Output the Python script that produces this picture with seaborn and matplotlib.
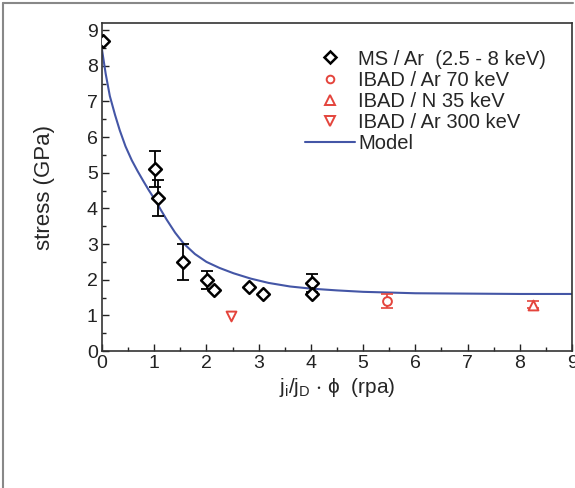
import matplotlib
matplotlib.use('Agg')
import matplotlib.pyplot as plt
from matplotlib.lines import Line2D
import seaborn as sns
import pandas as pd

# MS / Ar (2.5 - 8 keV)
ms_x = [0.02, 1.01, 1.08, 1.56, 2.01, 2.15, 2.82, 3.09, 4.02, 4.02]
ms_y = [8.7, 5.1, 4.3, 2.5, 2.0, 1.7, 1.8, 1.6, 1.9, 1.6]
ms_err = [0, 0.5, 0.5, 0.5, 0.25, 0, 0, 0, 0.25, 0]

# IBAD series
ar70_x, ar70_y, ar70_err = [5.45], [1.4], [0.2]
n35_x, n35_y, n35_err = [8.26], [1.3], [0.1]
ar300_x, ar300_y = [2.47], [0.98]

# Model curve
model_x = [0.0, 0.07, 0.15, 0.25, 0.34, 0.45, 0.57, 0.68, 0.79, 0.9, 1.02, 1.13, 1.24, 1.4,
           1.56, 1.78, 2.0, 2.25, 2.52, 2.85, 3.19, 3.6, 4.0, 4.5, 5.0, 6.0, 7.0, 8.0, 9.0]
model_y = [8.45, 7.78, 7.15, 6.62, 6.19, 5.74, 5.35, 5.05, 4.77, 4.5, 4.23, 3.95, 3.68, 3.32,
           3.02, 2.72, 2.5, 2.33, 2.18, 2.03, 1.91, 1.81, 1.75, 1.7, 1.66, 1.62, 1.61, 1.6, 1.6]

sns.set_style('ticks')
plt.rcParams['font.family'] = ['Liberation Sans', 'DejaVu Sans']
plt.rcParams['mathtext.default'] = 'regular'
plt.rcParams['font.size'] = 13

red = '#e4443c'
blue = '#4456a6'

fig = plt.figure(figsize=(5.75, 4.88), dpi=100)
ax = fig.add_axes([0.1774, 0.2807, 0.8174, 0.6722])

model = pd.DataFrame({'x': model_x, 'y': model_y})
sns.lineplot(data=model, x='x', y='y', ax=ax, color=blue, lw=1.5, label='Model', zorder=2)

ax.errorbar(ms_x, ms_y, yerr=ms_err, fmt='none', ecolor='black', elinewidth=1.3, capsize=4, capthick=1.3, zorder=3)
ax.errorbar(ar70_x, ar70_y, yerr=ar70_err, fmt='none', ecolor=red, elinewidth=1.2, capsize=4, capthick=1.2, zorder=3)
ax.errorbar(n35_x, n35_y, yerr=n35_err, fmt='none', ecolor=red, elinewidth=1.2, capsize=4, capthick=1.2, zorder=3)

sns.scatterplot(x=ms_x, y=ms_y, ax=ax, marker='D', s=42, facecolor='white', edgecolor='black', linewidth=1.8, zorder=4)
sns.scatterplot(x=ar70_x, y=ar70_y, ax=ax, marker='o', s=40, facecolor='white', edgecolor=red, linewidth=1.4, zorder=4)
sns.scatterplot(x=n35_x, y=n35_y, ax=ax, marker='^', s=50, facecolor='white', edgecolor=red, linewidth=1.4, zorder=4)
sns.scatterplot(x=ar300_x, y=ar300_y, ax=ax, marker='v', s=50, facecolor='white', edgecolor=red, linewidth=1.4, zorder=4)

ax.set_xlim(0, 9)
ax.set_ylim(0, 9.2)
ax.set_xticks(range(10))
ax.set_yticks(range(10))
ax.set_xticks([i + 0.5 for i in range(9)], minor=True)
ax.set_yticks([i + 0.5 for i in range(9)], minor=True)
ax.tick_params(which='both', direction='in', top=False, right=False, colors='#222222', labelsize=14, pad=3)
ax.tick_params(which='major', length=5, width=1)
ax.tick_params(which='minor', length=3, width=1)
for s in ax.spines.values():
    s.set_visible(True)
    s.set_linewidth(1.2)
    s.set_color('#333333')

ax.set_xlabel('j$_i$/j$_D$ $\\cdot$ \u03d5  (rpa)', fontsize=15, labelpad=3)
ax.set_ylabel('stress (GPa)', fontsize=16, labelpad=23)

handles = [
    Line2D([], [], ls='none', marker='D', ms=6, mfc='white', mec='black', mew=1.8),
    Line2D([], [], ls='none', marker='o', ms=5.5, mfc='white', mec=red, mew=1.4),
    Line2D([], [], ls='none', marker='^', ms=6.5, mfc='white', mec=red, mew=1.4),
    Line2D([], [], ls='none', marker='v', ms=6.5, mfc='white', mec=red, mew=1.4),
    Line2D([], [], color=blue, lw=1.5),
]
labels = ['MS / Ar  (2.5 - 8 keV)', 'IBAD / Ar 70 keV', 'IBAD / N 35 keV', 'IBAD / Ar 300 keV', 'Model']
ax.legend(handles, labels, loc='upper right', bbox_to_anchor=(0.975, 0.962), frameon=False,
          fontsize=14.5, handlelength=2.5, handletextpad=0.15, labelspacing=0.1, borderaxespad=0.3)

# partial grey frame round the figure
fig.add_artist(Line2D([0.006, 0.006], [0.0, 0.994], transform=fig.transFigure, color='#888888', lw=1.5))
fig.add_artist(Line2D([0.006, 0.997], [0.994, 0.994], transform=fig.transFigure, color='#888888', lw=1.5))

fig.savefig('out.png', dpi=100)
